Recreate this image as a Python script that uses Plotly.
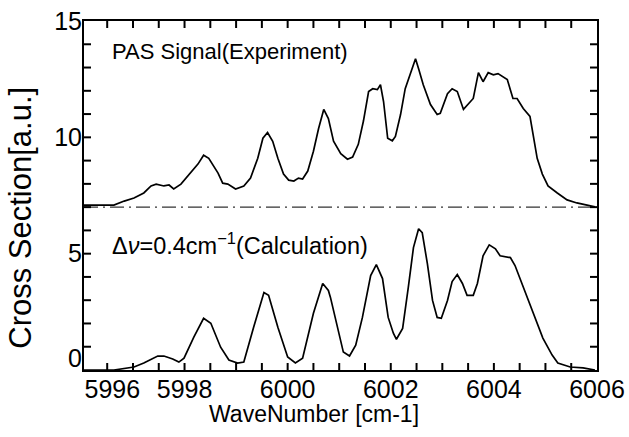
import plotly.graph_objects as go

# ---- data ----
exp_x = [5996.05, 5996.63, 5996.83, 5997.02, 5997.21, 5997.35, 5997.45, 5997.60, 5997.70, 5997.79,
         5997.93, 5998.12, 5998.26, 5998.37, 5998.47, 5998.65, 5998.74, 5998.84, 5998.99, 5999.15,
         5999.28, 5999.42, 5999.52, 5999.61, 5999.71, 5999.81, 5999.92, 6000.02, 6000.12, 6000.21,
         6000.29, 6000.39, 6000.50, 6000.60, 6000.70, 6000.79, 6000.89, 6001.03, 6001.16, 6001.26,
         6001.37, 6001.47, 6001.57, 6001.65, 6001.74, 6001.80, 6001.86, 6001.94, 6002.03, 6002.09,
         6002.19, 6002.28, 6002.38, 6002.48, 6002.54, 6002.63, 6002.77, 6002.90, 6002.96, 6003.10,
         6003.19, 6003.29, 6003.41, 6003.50, 6003.60, 6003.70, 6003.79, 6003.89, 6003.99, 6004.08,
         6004.16, 6004.26, 6004.37, 6004.45, 6004.57, 6004.70, 6004.76, 6004.84, 6004.94, 6005.05,
         6005.23, 6005.42, 6005.61, 6005.81, 6005.96]
exp_y = [7.09, 7.09, 7.26, 7.39, 7.61, 7.91, 7.99, 7.91, 7.95, 7.78,
         7.99, 8.46, 8.85, 9.23, 9.10, 8.46, 8.03, 7.99, 7.78, 7.91,
         8.25, 9.10, 9.96, 10.21, 9.83, 9.10, 8.42, 8.16, 8.12, 8.25,
         8.21, 8.55, 9.40, 10.38, 11.20, 10.81, 9.83, 9.30, 9.06, 9.15,
         9.70, 10.70, 11.97, 12.09, 12.05, 12.26, 11.54, 9.96, 9.85, 10.04,
         10.98, 12.09, 12.69, 13.38, 12.95, 12.26, 11.41, 10.98, 11.03, 11.88,
         12.09, 11.97, 11.20, 11.41, 11.67, 12.78, 12.39, 12.78, 12.69, 12.74,
         12.61, 12.48, 11.67, 11.67, 11.24, 10.90, 10.13, 9.10, 8.42, 7.91,
         7.61, 7.31, 7.18, 7.09, 7.01]

calc_x = [5996.05, 5996.63, 5997.02, 5997.21, 5997.48, 5997.60, 5997.77, 5997.89, 5997.99, 5998.18,
          5998.37, 5998.51, 5998.70, 5998.86, 5999.03, 5999.15, 5999.34, 5999.54, 5999.63, 5999.81,
          6000.00, 6000.15, 6000.29, 6000.50, 6000.68, 6000.79, 6000.83, 6000.99, 6001.08, 6001.20,
          6001.32, 6001.45, 6001.61, 6001.72, 6001.84, 6001.95, 6002.05, 6002.11, 6002.23, 6002.34,
          6002.44, 6002.54, 6002.61, 6002.71, 6002.81, 6002.90, 6002.98, 6003.10, 6003.19, 6003.29,
          6003.39, 6003.48, 6003.60, 6003.68, 6003.79, 6003.91, 6004.03, 6004.12, 6004.32, 6004.41,
          6004.57, 6004.76, 6004.95, 6005.13, 6005.24, 6005.48, 6005.73, 6005.96]
calc_y = [0.00, 0.00, 0.13, 0.30, 0.60, 0.60, 0.47, 0.34, 0.51, 1.41,
          2.22, 2.01, 0.98, 0.43, 0.30, 0.34, 1.84, 3.33, 3.21, 1.84,
          0.56, 0.30, 0.51, 2.44, 3.72, 3.42, 3.12, 1.58, 0.77, 0.60,
          1.07, 2.26, 4.06, 4.53, 3.93, 2.26, 1.58, 1.32, 1.79, 3.55,
          5.26, 6.07, 5.90, 4.57, 2.99, 2.26, 2.22, 2.99, 3.80, 4.10,
          3.72, 3.21, 3.21, 3.72, 4.91, 5.38, 5.21, 4.91, 4.83, 4.49,
          3.55, 2.44, 1.37, 0.64, 0.30, 0.13, 0.09, 0.00]

separator_y = 7.0
x_range = [5996.05, 6006]
y_range = [0, 15]
x_tick_vals = [5996.6, 5998, 6000, 6002, 6004, 6006]
x_tick_text = ["5996", "5998", "6000", "6002", "6004", "6006"]
y_tick_vals = [0.5, 5, 10, 15]
y_tick_text = ["0", "5", "10", "15"]
x_minor_step = 0.5
y_minor_step = 1

FONT = "Liberation Sans"
PLOT_W, PLOT_H = 513, 349          # plot-area size in px
TICK_PX = 7                        # inward tick length

fig = go.Figure()
fig.add_trace(go.Scatter(x=exp_x, y=exp_y, mode="lines",
                         line=dict(color="black", width=1.7), showlegend=False))
fig.add_trace(go.Scatter(x=calc_x, y=calc_y, mode="lines",
                         line=dict(color="black", width=1.7), showlegend=False))

fig.add_shape(type="line", xref="paper", yref="y", x0=0, x1=1,
              y0=separator_y, y1=separator_y,
              line=dict(color="#333333", width=1.2, dash="14px,5px,2px,5px"))

# inward tick marks on all four sides, at every minor step of the axes
tick_line = dict(color="black", width=2)
n_x = int(round((6006 - 5996) / x_minor_step))
for i in range(1, n_x):
    xv = 5996 + i * x_minor_step
    if xv <= x_range[0] or xv >= x_range[1]:
        continue
    fig.add_shape(type="line", xref="x", yref="paper", x0=xv, x1=xv,
                  y0=0, y1=TICK_PX / PLOT_H, line=tick_line)
    fig.add_shape(type="line", xref="x", yref="paper", x0=xv, x1=xv,
                  y0=1, y1=1 - TICK_PX / PLOT_H, line=tick_line)
for j in range(1, 15):
    yv = j * y_minor_step
    fig.add_shape(type="line", xref="paper", yref="y", x0=0, x1=TICK_PX / PLOT_W,
                  y0=yv, y1=yv, line=tick_line)
    fig.add_shape(type="line", xref="paper", yref="y", x0=1, x1=1 - TICK_PX / PLOT_W,
                  y0=yv, y1=yv, line=tick_line)

fig.add_annotation(x=0.05, y=0.912, xref="paper", yref="paper", xanchor="left", yanchor="middle",
                   text="PAS Signal(Experiment)", showarrow=False,
                   font=dict(family=FONT, size=22, color="black"))
fig.add_annotation(x=0.05, y=0.36, xref="paper", yref="paper", xanchor="left", yanchor="middle",
                   text="Δ<i>ν</i>=0.4cm<sup>−1</sup>(Calculation)", showarrow=False,
                   font=dict(family=FONT, size=23.5, color="black"))
fig.add_annotation(x=0.448, y=-0.126, xref="paper", yref="paper", xanchor="center", yanchor="middle",
                   text="WaveNumber [cm-1]", showarrow=False,
                   font=dict(family=FONT, size=23, color="black"))
fig.add_annotation(x=-0.123, y=0.436, xref="paper", yref="paper", xanchor="center", yanchor="middle",
                   text="Cross Section[a.u.]", showarrow=False, textangle=-90,
                   font=dict(family=FONT, size=31, color="black"))

tickfont = dict(family=FONT, size=25, color="black")
fig.update_layout(
    xaxis=dict(range=x_range, tickmode="array", tickvals=x_tick_vals, ticktext=x_tick_text,
               tickangle=0, ticks="", showgrid=False, zeroline=False, showline=True,
               linecolor="black", linewidth=2, mirror=True, tickfont=tickfont,
               ticklabelstandoff=-4),
    yaxis=dict(range=y_range, tickmode="array", tickvals=y_tick_vals, ticktext=y_tick_text,
               tickangle=0, ticks="", showgrid=False, zeroline=False, showline=True,
               linecolor="black", linewidth=2, mirror=True, tickfont=tickfont,
               ticklabelstandoff=-5),
    width=629, height=437, margin=dict(l=84, r=32, t=21, b=67, autoexpand=False),
    plot_bgcolor="white", paper_bgcolor="white",
)
fig.write_html("out.html")
